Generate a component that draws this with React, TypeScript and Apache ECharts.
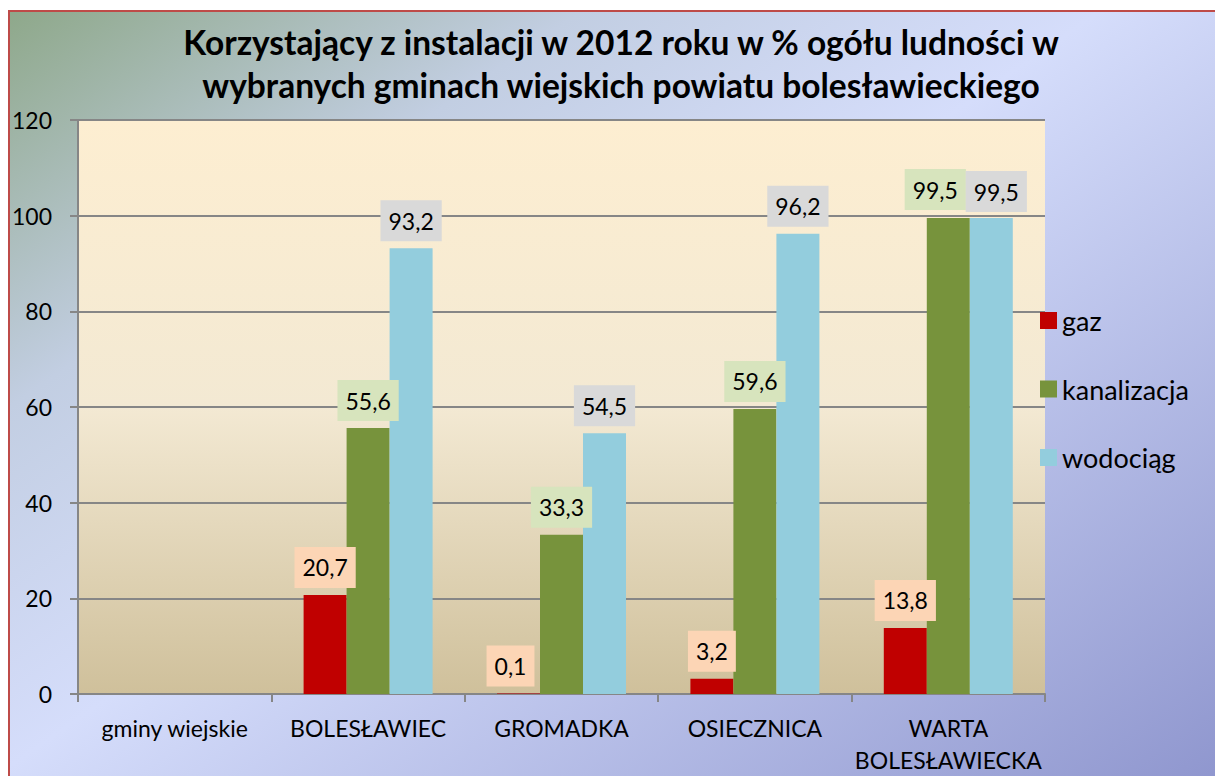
import React, { useEffect, useRef } from "react";
import * as echarts from "echarts";

const categories = ["gminy wiejskie", "BOLESŁAWIEC", "GROMADKA", "OSIECZNICA", "WARTA\nBOLESŁAWIECKA"];
const seriesNames = ["gaz", "kanalizacja", "wodociąg"];
const gaz = [null, 20.7, 0.1, 3.2, 13.8];
const kanalizacja = [null, 55.6, 33.3, 59.6, 99.5];
const wodociag = [null, 93.2, 54.5, 96.2, 99.5];
const yMin = 0;
const yMax = 120;
const yInterval = 20;
const titleText = "Korzystający z instalacji w 2012 roku w % ogółu ludności w\nwybranych gminach wiejskich powiatu bolesławieckiego";

const FONT = "Lato, 'Open Sans', sans-serif";

// label nudges (style only) to mimic the reference's collision avoidance
const labelOffsets: Record<string, [number, number]> = {
  "0-2": [-8, 0],
  "1-4": [-13, -1],
  "2-4": [5, 1],
};

export default function App() {
  const ref = useRef<HTMLDivElement>(null);
  useEffect(() => {
    if (!ref.current) return;
    const chart = echarts.init(ref.current, null, { renderer: "svg" });
    const colors = ["#c00000", "#77933c", "#93cddd"];
    const labelBg = ["#fcd5b5", "#d7e4bd", "#d9d9d9"];
    const datasets = [gaz, kanalizacja, wodociag];
    chart.setOption({
      animation: false,
      backgroundColor: "#ffffff",
      textStyle: { fontFamily: FONT },
      graphic: [
        {
          type: "rect",
          z: -100,
          silent: true,
          shape: { x: 9, y: 11, width: 1300, height: 900 },
          style: {
            fill: new echarts.graphic.LinearGradient(0, 0, 1, 1, [
              { offset: 0, color: "#8ea88a" },
              { offset: 0.22, color: "#c2cee2" },
              { offset: 0.42, color: "#d5ddfb" },
              { offset: 1, color: "#7f86c4" },
            ]),
            stroke: "#be4b48",
            lineWidth: 2,
          },
        },
        {
          type: "text",
          x: 621,
          y: 63,
          style: {
            text: titleText,
            font: `bold 33.5px ${FONT}`,
            fill: "#000",
            textAlign: "center",
            textVerticalAlign: "middle",
            lineHeight: 43,
          },
        },
      ],
      color: colors,
      legend: {
        orient: "vertical",
        left: 1040,
        top: 307,
        padding: 0,
        itemWidth: 17,
        itemHeight: 17,
        itemGap: 41.5,
        icon: "rect",
        data: seriesNames,
        textStyle: { fontSize: 27, lineHeight: 24, color: "#000", fontFamily: FONT },
      },
      grid: {
        left: 78,
        right: 170,
        top: 120,
        bottom: 82,
        show: true,
        borderWidth: 0,
        backgroundColor: new echarts.graphic.LinearGradient(0, 0, 0, 1, [
          { offset: 0, color: "#fdeed1" },
          { offset: 0.5, color: "#f3e9d3" },
          { offset: 1, color: "#cfc09b" },
        ]),
      },
      xAxis: {
        type: "category",
        data: categories,
        axisLine: { show: true, lineStyle: { color: "#868686", width: 2 } },
        axisTick: { show: true, length: 8, lineStyle: { color: "#868686", width: 2 } },
        axisLabel: { fontSize: 23, color: "#000", margin: 18, lineHeight: 32, fontFamily: FONT, interval: 0 },
      },
      yAxis: {
        type: "value",
        min: yMin,
        max: yMax,
        interval: yInterval,
        axisLine: { show: true, lineStyle: { color: "#868686", width: 2 } },
        axisTick: { show: true, length: 8, lineStyle: { color: "#868686", width: 2 } },
        axisLabel: { fontSize: 23, color: "#000", margin: 26, fontFamily: FONT },
        splitLine: { show: true, lineStyle: { color: "#868686", width: 2 } },
      },
      series: seriesNames.map((name, i) => ({
        name,
        type: "bar",
        data: datasets[i].map((v, j) => {
          const off = labelOffsets[`${i}-${j}`];
          return off ? { value: v, label: { offset: off } } : v;
        }),
        barWidth: 43,
        barGap: "0%",
        itemStyle: { color: colors[i] },
        label: {
          show: true,
          position: "top",
          distance: 7,
          formatter: (p: any) => (p.value == null ? "" : Number(p.value).toFixed(1).replace(".", ",")),
          fontSize: 23,
          lineHeight: 29,
          color: "#000",
          fontFamily: FONT,
          backgroundColor: labelBg[i],
          padding: [6, 8, 6, 8],
        },
      })),
    });
    return () => chart.dispose();
  }, []);
  return <div ref={ref} style={{ position: "fixed", left: 0, top: 0, width: 1215, height: 776 }} />;
}
